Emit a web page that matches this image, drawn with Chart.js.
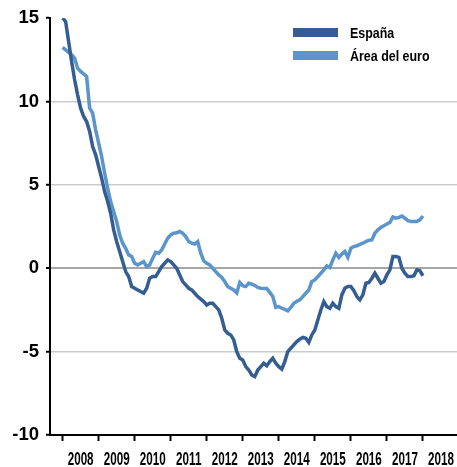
<!DOCTYPE html>
<html>
<head>
<meta charset="utf-8">
<script src="https://cdn.jsdelivr.net/npm/chart.js@4/dist/chart.umd.min.js"></script>
<style>
  body { margin: 0; background: #fff; }
  canvas { display: block; }
</style>
</head>
<body>
<canvas id="chart" width="457" height="467"></canvas>
<script>
const CHART = document.getElementById("chart");

// monthly data, first point = Jan 2008
const START_YEAR = 2008;
const YEARS = [2008, 2009, 2010, 2011, 2012, 2013, 2014, 2015, 2016, 2017, 2018];
const Y_TICKS = [-10, -5, 0, 5, 10, 15];
const SERIES_NAMES = ["España", "Área del euro"];

const espana = [
  15.0, 14.8, 13.6, 12.4, 11.3, 10.4, 9.6, 9.1, 8.8, 8.2, 7.3, 6.8,
  6.1, 5.4, 4.6, 4.0, 3.3, 2.3, 1.6, 1.0, 0.4, -0.2, -0.5, -1.1,
  -1.2, -1.3, -1.4, -1.5, -1.2, -0.6, -0.5, -0.5, -0.2, 0.1, 0.3, 0.5,
  0.4, 0.2, 0.0, -0.4, -0.8, -1.0, -1.2, -1.3, -1.5, -1.7, -1.85, -2.0,
  -2.2, -2.1, -2.1, -2.3, -2.5, -3.0, -3.7, -3.9, -4.0, -4.3, -5.0, -5.4,
  -5.5, -5.9, -6.1, -6.4, -6.5, -6.1, -5.9, -5.7, -5.85, -5.6, -5.4, -5.7,
  -5.9, -6.05, -5.6, -5.0, -4.8, -4.6, -4.4, -4.25, -4.15, -4.2, -4.45, -4.0,
  -3.7, -3.1, -2.5, -2.0, -2.3, -2.4, -2.1, -2.3, -2.4, -1.6, -1.2, -1.1,
  -1.1, -1.35, -1.7, -1.9, -1.6, -0.9, -0.85, -0.6, -0.3, -0.6, -0.9, -0.8,
  -0.4, -0.1, 0.7, 0.7, 0.65, 0.0, -0.3, -0.5, -0.5, -0.45, -0.1, -0.15,
  -0.45,
];

const areaEuro = [
  13.25, 13.1, 12.95, 12.8, 12.6, 12.0, 11.8, 11.65, 11.5, 9.6, 9.3, 8.3,
  7.5, 6.7, 5.7, 4.8, 4.0, 3.4, 2.8, 2.0, 1.5, 1.2, 0.8, 0.7,
  0.3, 0.2, 0.3, 0.4, 0.1, 0.2, 0.6, 0.95, 0.9, 1.1, 1.45, 1.8,
  2.0, 2.1, 2.13, 2.2, 2.1, 1.9, 1.6, 1.5, 1.45, 1.6, 0.9, 0.45,
  0.3, 0.2, 0.0, -0.2, -0.4, -0.55, -0.8, -1.1, -1.2, -1.3, -1.48, -0.85,
  -1.05, -1.1, -0.9, -0.95, -1.03, -1.15, -1.2, -1.22, -1.22, -1.45, -1.7, -2.35,
  -2.3, -2.4, -2.47, -2.55, -2.35, -2.1, -1.98, -1.9, -1.7, -1.5, -1.3, -0.8,
  -0.7, -0.5, -0.3, -0.1, 0.15, 0.05, 0.5, 0.9, 0.65, 0.85, 1.0, 0.66,
  1.2, 1.3, 1.35, 1.43, 1.5, 1.6, 1.68, 1.7, 2.1, 2.3, 2.45, 2.55,
  2.65, 2.75, 3.07, 3.0, 3.05, 3.13, 3.0, 2.85, 2.81, 2.81, 2.81, 2.9,
  3.13,
];

const toPoints = (arr) => arr.map((v, i) => ({ x: START_YEAR + i / 12, y: v }));

// legend drawn inside the plot, top right (text squeezed like the original)
const legendInside = {
  id: "legendInside",
  afterDraw(chart) {
    const ctx = chart.ctx;
    ctx.save();
    ctx.font = "bold 15px 'Liberation Sans', Arial, sans-serif";
    ctx.textBaseline = "alphabetic";
    chart.data.datasets.forEach((ds, i) => {
      const y = 28 + i * 23;
      ctx.fillStyle = ds.borderColor;
      ctx.fillRect(293, y, 45, 9);
      ctx.save();
      ctx.translate(350, y + 10);
      ctx.scale(0.83, 1);
      ctx.fillStyle = "#000";
      ctx.fillText(ds.label, 0, 0);
      ctx.restore();
    });
    ctx.restore();
  },
};

// year labels sit between the tick marks, condensed bold
const yearLabels = {
  id: "yearLabels",
  afterDraw(chart) {
    const ctx = chart.ctx;
    const xs = chart.scales.x;
    ctx.save();
    ctx.font = "bold 18.5px 'Liberation Sans', Arial, sans-serif";
    ctx.fillStyle = "#000";
    ctx.textAlign = "center";
    ctx.textBaseline = "alphabetic";
    YEARS.forEach((yr) => {
      const cx = xs.getPixelForValue(yr + 0.5);
      ctx.save();
      ctx.translate(cx, 465);
      ctx.scale(0.63, 1);
      ctx.fillText(String(yr), 0, 0);
      ctx.restore();
    });
    ctx.restore();
  },
};

new Chart(CHART, {
  type: "line",
  data: {
    datasets: [
      {
        label: SERIES_NAMES[0],
        data: toPoints(espana),
        borderColor: "#345d91",
        backgroundColor: "#345d91",
        borderWidth: 3.5,
        pointRadius: 0,
        tension: 0,
      },
      {
        label: SERIES_NAMES[1],
        data: toPoints(areaEuro),
        borderColor: "#5b95cb",
        backgroundColor: "#5b95cb",
        borderWidth: 3.5,
        pointRadius: 0,
        tension: 0,
      },
    ],
  },
  options: {
    responsive: false,
    animation: false,
    devicePixelRatio: 1,
    layout: { padding: { top: 14, right: 0, left: 0, bottom: 0 } },
    plugins: {
      legend: { display: false },
      tooltip: { enabled: false },
    },
    scales: {
      x: {
        type: "linear",
        min: 2007.65,
        max: 2018.946,
        afterBuildTicks: (s) => {
          s.ticks = YEARS.map((v) => ({ value: v }));
        },
        afterFit: (s) => {
          s.height = 32;
        },
        ticks: { display: true, color: "rgba(0,0,0,0)", callback: () => "" },
        grid: {
          drawOnChartArea: false,
          drawTicks: true,
          tickLength: 6,
          tickColor: "#000",
          tickWidth: 2,
        },
        border: { color: "#000", width: 2 },
      },
      y: {
        min: -10,
        max: 15,
        afterBuildTicks: (s) => {
          s.ticks = Y_TICKS.map((v) => ({ value: v }));
        },
        afterFit: (s) => {
          s.width = 50;
        },
        ticks: {
          color: "#000",
          padding: 7,
          font: { family: "'Liberation Sans', Arial, sans-serif", size: 18.5, weight: "bold" },
        },
        grid: {
          color: (c) => {
            const v = c.tick ? c.tick.value : null;
            if (v === 15 || v === -10) return "rgba(0,0,0,0)";
            if (v === 0) return "#a6a6a6";
            return "#cccccc";
          },
          lineWidth: (c) => (c.tick && c.tick.value === 0 ? 2 : 1.5),
          tickColor: "#000",
          tickWidth: 2,
          tickLength: 4,
        },
        border: { color: "#000", width: 2 },
      },
    },
  },
  plugins: [legendInside, yearLabels],
});
</script>
</body>
</html>
